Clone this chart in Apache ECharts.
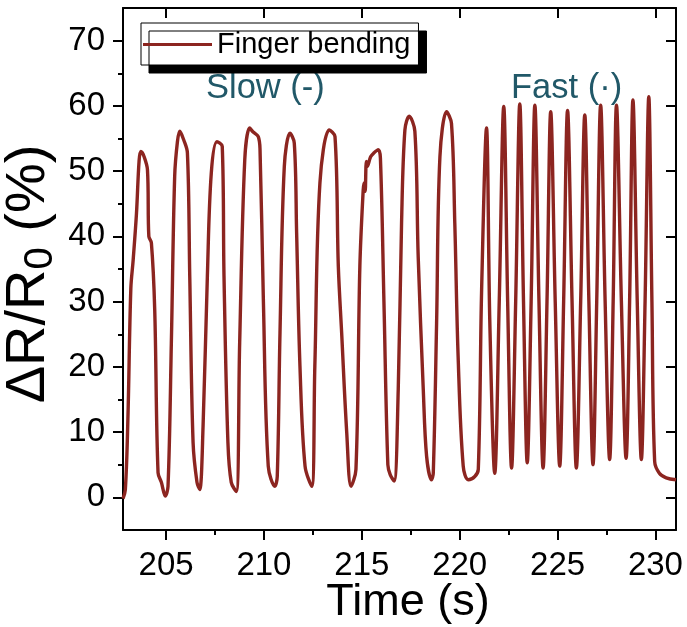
<!DOCTYPE html>
<html><head><meta charset="utf-8">
<script src="https://cdn.jsdelivr.net/npm/echarts@6/dist/echarts.min.js"></script>
<style>html,body{margin:0;padding:0;background:#fff}#c{width:687px;height:627px}</style>
</head><body><div id="c"></div>
<script>
// ---- data ----
const time = [
 202.80,202.92,203.05,203.20,203.32,203.49,203.62,203.71,203.88,204.05,204.12,204.25,204.42,204.59,204.76,204.96,205.10,
 205.27,205.44,205.58,205.70,205.90,206.09,206.21,206.38,206.58,206.72,
 206.89,207.11,207.31,207.60,207.87,207.96,208.16,208.33,208.59,
 208.76,209.02,209.27,209.45,209.71,209.80,209.97,210.22,210.56,210.68,
 210.82,211.04,211.33,211.55,211.67,211.84,212.10,212.44,
 212.60,212.86,213.34,213.63,213.80,213.97,214.23,214.45,214.70,
 214.90,215.07,215.12,215.17,215.23,215.28,215.45,215.62,215.84,215.95,216.13,216.33,216.45,216.65,
 216.86,217.03,217.20,217.42,217.71,217.88,218.14,218.31,218.56,218.65,
 218.82,218.99,219.33,219.58,219.75,219.92,220.18,220.44,220.77,220.95,
 221.12,221.37,221.54,221.79,
 222.02,222.25,222.45,222.65,222.86,223.07,223.26,223.45,223.65,223.84,224.05,224.26,
 224.46,224.65,224.88,225.11,225.31,225.51,225.74,225.96,226.18,226.39,226.60,226.81,
 227.00,227.20,227.43,227.66,227.84,228.01,228.26,228.50,228.68,228.85,229.07,229.28,
 229.47,229.66,229.82,229.96,230.20,230.55,231.05
];
const deltaR = [
 -0.2,1.2,12,32,36.4,43.6,51.5,53.0,52.2,50.2,40,39.0,28.8,3.8,2.3,0.2,1.7,
 23.7,49.2,54.5,56.1,54.8,52.8,33.9,8.4,2.3,1.2,
 10.9,33.9,49.7,54.5,53.8,33.9,8.4,2.3,0.9,
 23.7,51.7,56.6,56.0,55.3,53.3,30.3,4.8,1.7,3.2,
 25.2,50.7,55.8,54.3,40.5,20.1,4.8,1.7,
 20.1,48.2,56.3,55.3,35.4,25.2,9.9,1.7,4.3,
 35.4,47.1,48.2,46.9,51.5,50.7,52.2,52.8,53.3,52.0,30,5.0,3.5,2.5,
 16.5,42,56.3,58.4,56.1,36.9,16.5,6.3,2.7,3.7,
 26.7,52.2,59.1,57.3,42,21.6,4.8,2.7,3.2,4.3,
 31.8,56.6,26.7,3.7,
 30,59.9,30,4.5,30,60.3,30,5.3,30,60.1,30,4.5,
 30,59.1,30,4.8,30,59.3,30,4.5,30,58.6,30,5.0,
 30,60.1,30,5.8,30,60.1,30,6.0,30,60.9,30,5.8,
 30,61.4,30,5.5,3.7,3.0,2.7
];
const xMajorTicks = [205,210,215,220,225,230];
const xMinorTicks = [207.5,212.5,217.5,222.5,227.5];
const yMajorTicks = [0,10,20,30,40,50,60,70];
const yMinorTicks = [5,15,25,35,45,55,65];
const seriesName = 'Finger bending';
const slowLabel = 'Slow (-)';
const fastLabel = 'Fast (·)';

// ---- chart ----
const FONT = 'Liberation Sans, Arial, sans-serif';
const LINE_COLOR = '#8c2520';
const X_RANGE = [202.8, 231.05];
const Y_RANGE = [-5, 75];
const axisLineStyle = {color:'#000', width:2};

function xAx(o){ return Object.assign({type:'value', min:X_RANGE[0], max:X_RANGE[1], splitLine:{show:false}}, o); }
function yAx(o){ return Object.assign({type:'value', min:Y_RANGE[0], max:Y_RANGE[1], splitLine:{show:false}}, o); }

const chart = echarts.init(document.getElementById('c'), null, {renderer:'canvas'});
chart.setOption({
  animation:false,
  backgroundColor:'#fff',
  grid:{left:123, right:11, top:8, bottom:97, containLabel:false, outerBoundsMode:'none'},
  legend:{
    data:[{name:seriesName, icon:'rect'}], left:141, top:23, itemWidth:69, itemHeight:3,
    padding:[7,8,6,2], backgroundColor:'#fff', borderColor:'#000', borderWidth:1,
    shadowColor:'#000', shadowOffsetX:8, shadowOffsetY:8, shadowBlur:0,
    itemStyle:{color:LINE_COLOR},
    textStyle:{fontSize:29, color:'#000', fontFamily:FONT}
  },
  xAxis:[
    xAx({position:'bottom', name:'Time (s)', nameLocation:'middle', nameGap:50, nameMoveOverlap:false,
      nameTextStyle:{fontSize:45, color:'#000', fontFamily:FONT, padding:[0,0,0,17]},
      axisLine:{show:true, onZero:false, lineStyle:axisLineStyle},
      axisTick:{show:true, inside:false, length:10, customValues:xMajorTicks, lineStyle:axisLineStyle},
      axisLabel:{show:true, customValues:xMajorTicks, fontSize:33, color:'#000', fontFamily:FONT, margin:19}}),
    xAx({position:'bottom', axisLine:{show:false, onZero:false},
      axisTick:{show:true, inside:false, length:5, customValues:xMinorTicks, lineStyle:axisLineStyle},
      axisLabel:{show:false}}),
    xAx({position:'top', axisLine:{show:true, onZero:false, lineStyle:axisLineStyle},
      axisTick:{show:true, inside:true, length:10, customValues:xMajorTicks, lineStyle:axisLineStyle},
      axisLabel:{show:false}})
  ],
  yAxis:[
    yAx({position:'left', name:'{a|ΔR/R}{b|0}{a| (%)}', nameLocation:'middle', nameGap:62, nameMoveOverlap:false,
      nameTextStyle:{color:'#000', fontFamily:FONT, padding:[0,10,0,0],
        rich:{a:{fontSize:56, fontFamily:FONT, color:'#000'}, b:{fontSize:40, fontFamily:FONT, color:'#000', padding:[24,0,0,0]}}},
      axisLine:{show:true, onZero:false, lineStyle:axisLineStyle},
      axisTick:{show:true, inside:false, length:10, customValues:yMajorTicks, lineStyle:axisLineStyle},
      axisLabel:{show:true, customValues:yMajorTicks, fontSize:33, color:'#000', fontFamily:FONT, margin:18}}),
    yAx({position:'left', axisLine:{show:false, onZero:false},
      axisTick:{show:true, inside:false, length:5, customValues:yMinorTicks, lineStyle:axisLineStyle},
      axisLabel:{show:false}}),
    yAx({position:'right', axisLine:{show:true, onZero:false, lineStyle:axisLineStyle},
      axisTick:{show:true, inside:true, length:10, customValues:yMajorTicks, lineStyle:axisLineStyle},
      axisLabel:{show:false}})
  ],
  graphic:[
    {type:'text', left:206, top:71, style:{text:slowLabel, fontSize:34.5, fill:'#215868', fontFamily:FONT}},
    {type:'text', left:511, top:71, style:{text:fastLabel, fontSize:34.5, fill:'#215868', fontFamily:FONT}}
  ],
  series:[{
    name:seriesName, type:'line', xAxisIndex:0, yAxisIndex:0,
    data: time.map((t,i)=>[t, deltaR[i]]),
    symbol:'none', smooth:0.35,
    lineStyle:{color:LINE_COLOR, width:3.4}, itemStyle:{color:LINE_COLOR}
  }]
});
</script></body></html>
